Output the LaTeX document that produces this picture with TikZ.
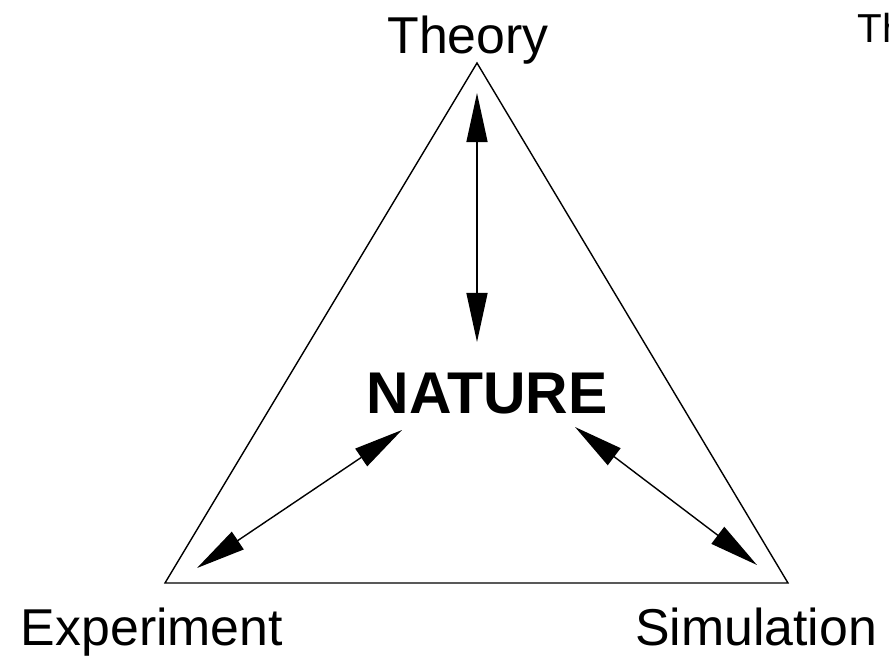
\documentclass[tikz,border=0pt]{standalone}
\usepackage{fontspec}
\setmainfont{Liberation Sans}
\usetikzlibrary{arrows,arrows.meta}
\tikzstyle{lbl} = [inner sep=0pt, anchor=base, font=\fontsize{29.5}{31}\selectfont]
\tikzstyle{ctr} = [inner sep=0pt, anchor=base, font=\fontsize{33.5}{35}\selectfont\bfseries]
\tikzstyle{tri} = [style={line width=0.8pt, line join=miter}]
\tikzstyle{dbl} = [style={{Triangle[length=28pt,width=12pt]}-{Triangle[length=28pt,width=12pt]}, line width=0.8pt}]

\begin{document}
\begin{tikzpicture}[x=0.02cm, y=-0.02cm]
        \useasboundingbox (0,0) rectangle (889,657);
        \coordinate (top) at (477,63);
        \coordinate (left) at (165,583);
        \coordinate (right) at (788,583);
        \draw[tri] (top) -- (left) -- (right) -- cycle;
        \node[lbl] (theory) at (468,53) {Theory};
        \node[lbl] (experiment) at (152,645) {Experiment};
        \node[lbl] (simulation) at (756,645) {Simulation};
        \node[ctr] (nature) at (487,413) {NATURE};
        \node[inner sep=0pt, anchor=base west, font=\fontsize{23}{24}\selectfont] (cut) at (857,42) {Th};
        \coordinate (t1) at (477,93);
        \coordinate (t2) at (477,342);
        \coordinate (e1) at (197,568);
        \coordinate (e2) at (402,430);
        \coordinate (s1) at (575,427);
        \coordinate (s2) at (757,565);
        \draw[dbl] (t1) -- (t2);
        \draw[dbl] (e1) -- (e2);
        \draw[dbl] (s1) -- (s2);
      \end{tikzpicture}
\end{document}
